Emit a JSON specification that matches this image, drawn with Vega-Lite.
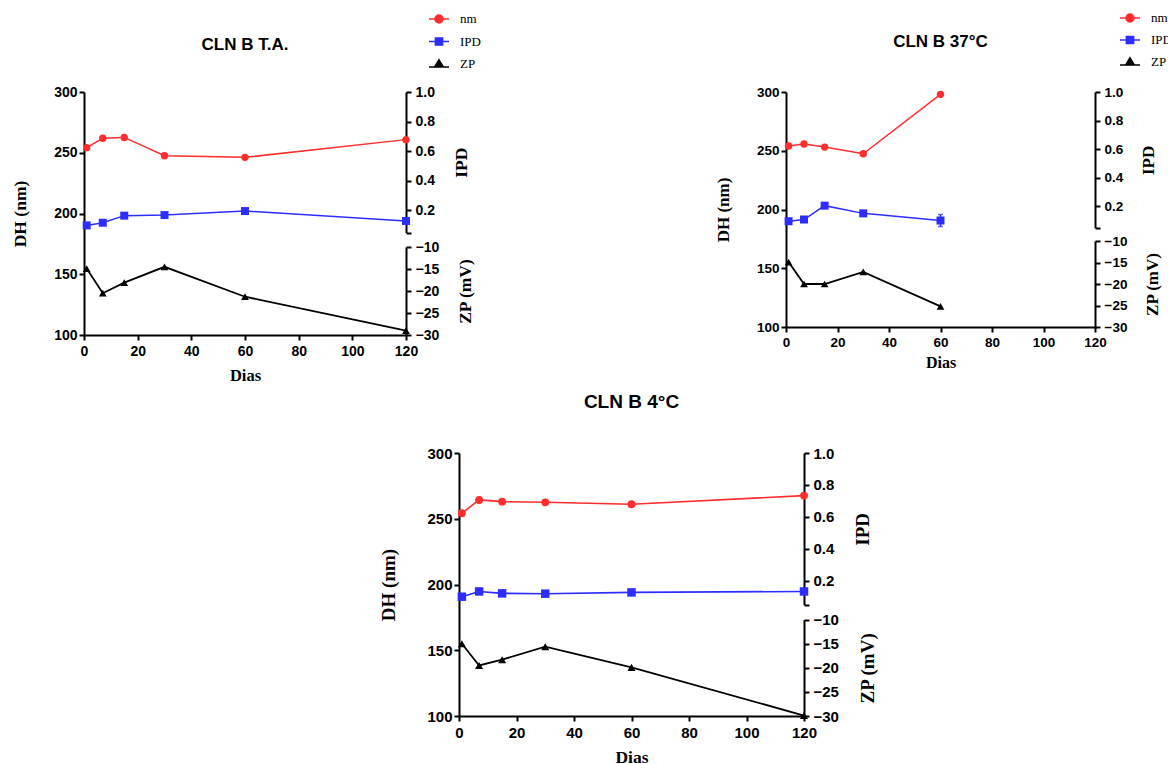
{
  "$schema": "https://vega.github.io/schema/vega-lite/v6.json",
  "padding": {"left": 11, "top": 7, "right": 0, "bottom": 0},
  "background": "white",
  "config": {
    "view": {"stroke": null},
    "axis": {
      "grid": false,
      "domainColor": "black",
      "domainWidth": 2,
      "tickColor": "black",
      "tickWidth": 2,
      "tickSize": 5,
      "labelFont": "Liberation Sans",
      "labelFontWeight": "bold",
      "labelColor": "black",
      "labelFlush": false,
      "titleFont": "Liberation Serif",
      "titleFontWeight": "bold",
      "titleColor": "black"
    },
    "title": {"font": "Liberation Sans", "fontWeight": "bold", "color": "black", "anchor": "middle", "frame": "group"}
  },
  "data": {
    "values": [
      {"panel": "TA", "series": "nm", "dia": 1, "v": 254.2},
      {"panel": "TA", "series": "nm", "dia": 7, "v": 261.9},
      {"panel": "TA", "series": "nm", "dia": 15, "v": 262.6},
      {"panel": "TA", "series": "nm", "dia": 30, "v": 247.5},
      {"panel": "TA", "series": "nm", "dia": 60, "v": 246.2},
      {"panel": "TA", "series": "nm", "dia": 120, "v": 260.8},
      {"panel": "TA", "series": "IPD", "dia": 1, "v": 0.098},
      {"panel": "TA", "series": "IPD", "dia": 7, "v": 0.116},
      {"panel": "TA", "series": "IPD", "dia": 15, "v": 0.164},
      {"panel": "TA", "series": "IPD", "dia": 30, "v": 0.168},
      {"panel": "TA", "series": "IPD", "dia": 60, "v": 0.195},
      {"panel": "TA", "series": "IPD", "dia": 120, "v": 0.128},
      {"panel": "TA", "series": "ZP", "dia": 1, "v": -14.9},
      {"panel": "TA", "series": "ZP", "dia": 7, "v": -20.5},
      {"panel": "TA", "series": "ZP", "dia": 15, "v": -18.1},
      {"panel": "TA", "series": "ZP", "dia": 30, "v": -14.5},
      {"panel": "TA", "series": "ZP", "dia": 60, "v": -21.3},
      {"panel": "TA", "series": "ZP", "dia": 120, "v": -29.0},
      {"panel": "37", "series": "nm", "dia": 1, "v": 254.0},
      {"panel": "37", "series": "nm", "dia": 7, "v": 255.7},
      {"panel": "37", "series": "nm", "dia": 15, "v": 253.1},
      {"panel": "37", "series": "nm", "dia": 30, "v": 247.4},
      {"panel": "37", "series": "nm", "dia": 60, "v": 298.0},
      {"panel": "37", "series": "IPD", "dia": 1, "v": 0.096},
      {"panel": "37", "series": "IPD", "dia": 7, "v": 0.108},
      {"panel": "37", "series": "IPD", "dia": 15, "v": 0.205},
      {"panel": "37", "series": "IPD", "dia": 30, "v": 0.151},
      {"panel": "37", "series": "IPD", "dia": 60, "v": 0.101, "lo": 0.059, "hi": 0.143},
      {"panel": "37", "series": "ZP", "dia": 1, "v": -14.9},
      {"panel": "37", "series": "ZP", "dia": 7, "v": -20.0},
      {"panel": "37", "series": "ZP", "dia": 15, "v": -20.0},
      {"panel": "37", "series": "ZP", "dia": 30, "v": -17.2},
      {"panel": "37", "series": "ZP", "dia": 60, "v": -25.2},
      {"panel": "4", "series": "nm", "dia": 1, "v": 254.2},
      {"panel": "4", "series": "nm", "dia": 7, "v": 264.3},
      {"panel": "4", "series": "nm", "dia": 15, "v": 263.0},
      {"panel": "4", "series": "nm", "dia": 30, "v": 262.5},
      {"panel": "4", "series": "nm", "dia": 60, "v": 261.0},
      {"panel": "4", "series": "nm", "dia": 120, "v": 267.6},
      {"panel": "4", "series": "IPD", "dia": 1, "v": 0.100},
      {"panel": "4", "series": "IPD", "dia": 7, "v": 0.133},
      {"panel": "4", "series": "IPD", "dia": 15, "v": 0.121},
      {"panel": "4", "series": "IPD", "dia": 30, "v": 0.119},
      {"panel": "4", "series": "IPD", "dia": 60, "v": 0.127},
      {"panel": "4", "series": "IPD", "dia": 120, "v": 0.133},
      {"panel": "4", "series": "ZP", "dia": 1, "v": -15.0},
      {"panel": "4", "series": "ZP", "dia": 7, "v": -19.5},
      {"panel": "4", "series": "ZP", "dia": 15, "v": -18.3},
      {"panel": "4", "series": "ZP", "dia": 30, "v": -15.6},
      {"panel": "4", "series": "ZP", "dia": 60, "v": -19.9},
      {"panel": "4", "series": "ZP", "dia": 120, "v": -29.9}
    ]
  },
  "bounds": "flush",
  "spacing": 361,
  "resolve": {
    "scale": {"fill": "independent", "stroke": "independent", "shape": "independent"},
    "legend": {"fill": "independent", "stroke": "independent", "shape": "independent"}
  },
  "vconcat": [
    {
      "bounds": "flush",
      "spacing": 380,
      "resolve": {
        "scale": {"fill": "independent", "stroke": "independent", "shape": "independent"},
        "legend": {"fill": "independent", "stroke": "independent", "shape": "independent"}
      },
      "hconcat": [
        {
          "width": 322,
          "height": 243,
          "title": {"text": "CLN B T.A.", "fontSize": 17, "baseline": "middle", "offset": -54},
          "transform": [{"filter": "datum.panel == 'TA'"}],
          "encoding": {
            "x": {"field": "dia", "type": "quantitative", "scale": {"domain": [0, 120], "nice": false},
                  "axis": {"values": [0, 20, 40, 60, 80, 100, 120], "title": "Dias", "labelFontSize": 14, "titleFontSize": 16.5, "labelPadding": 4, "titlePadding": 9}}
          },
          "layer": [
            {
              "transform": [{"filter": "datum.series == 'nm'"}],
              "encoding": {
                "y": {"field": "v", "type": "quantitative", "scale": {"domain": [100, 300], "nice": false, "zero": false},
                      "axis": {"orient": "left", "values": [100, 150, 200, 250, 300], "title": "DH (nm)", "labelFontSize": 14, "titleFontSize": 17.5, "labelPadding": 2, "titlePadding": 24}}
              },
              "layer": [
                {"mark": {"type": "line", "color": "#ff2d2d", "strokeWidth": 1.5}},
                {"mark": {"type": "point", "shape": "circle", "filled": true, "color": "#ff2d2d", "size": 55, "opacity": 1}},
                {
                  "mark": {"type": "point", "filled": true, "opacity": 0},
                  "encoding": {
                    "fill": {"field": "series", "type": "nominal",
                      "scale": {"domain": ["nm", "IPD", "ZP"], "range": ["#ff2d2d", "#2d2dff", "#000000"]},
                      "legend": {"orient": "none", "legendX": 344, "legendY": -84, "title": null, "padding": 0,
                        "labelFont": "Liberation Serif", "labelFontSize": 13, "labelColor": "black", "labelOffset": 10,
                        "symbolSize": 400, "symbolStrokeWidth": 1.5, "rowPadding": 4.5,
                        "encode": {"symbols": {"update": {"opacity": {"value": 1}}}}}},
                    "stroke": {"field": "series", "type": "nominal",
                      "scale": {"domain": ["nm", "IPD", "ZP"], "range": ["#ff2d2d", "#2d2dff", "#000000"]}},
                    "shape": {"field": "series", "type": "nominal",
                      "scale": {"domain": ["nm", "IPD", "ZP"], "range": [
                        "M-1,0H1M-0.4,0A0.4,0.4 0 1,1 0.4,0A0.4,0.4 0 1,1 -0.4,0Z",
                        "M-1,0H1M-0.36,-0.36H0.36V0.36H-0.36Z",
                        "M-1,0.3H1M0,-0.42L0.44,0.3H-0.44Z"]}}
                  }
                }
              ]
            },
            {
              "transform": [{"filter": "datum.series == 'IPD'"}],
              "encoding": {
                "y": {"field": "v", "type": "quantitative", "scale": {"domain": [0.05, 1.0], "range": [140.5, 0], "nice": false, "zero": false},
                      "axis": {"orient": "right", "values": [0.05, 0.2, 0.4, 0.6, 0.8, 1.0], "labelExpr": "datum.value < 0.1 ? '' : format(datum.value, '.1f')",
                               "title": "IPD", "titleAngle": 270, "titleBaseline": "top", "labelFontSize": 14, "titleFontSize": 17.5, "labelPadding": 4, "titlePadding": 18}}
              },
              "layer": [
                {"mark": {"type": "line", "color": "#2d2dff", "strokeWidth": 1.5}},
                {"mark": {"type": "point", "shape": "square", "filled": true, "color": "#2d2dff", "size": 64, "opacity": 1}}
              ]
            },
            {
              "transform": [{"filter": "datum.series == 'ZP'"}],
              "encoding": {
                "y": {"field": "v", "type": "quantitative", "scale": {"domain": [-30, -10], "range": [243, 155], "nice": false, "zero": false},
                      "axis": {"orient": "right", "values": [-30, -25, -20, -15, -10], "title": "ZP (mV)", "titleAngle": 270, "titleBaseline": "top",
                               "labelFontSize": 14, "titleFontSize": 17.5, "labelPadding": 4, "titlePadding": 18}}
              },
              "layer": [
                {"mark": {"type": "line", "color": "#000000", "strokeWidth": 1.8}},
                {"mark": {"type": "point", "shape": "triangle-up", "filled": true, "color": "#000000", "size": 60, "opacity": 1}}
              ]
            }
          ],
          "resolve": {"scale": {"y": "independent"}, "axis": {"y": "independent"}}
        },
        {
          "width": 309,
          "height": 235,
          "title": {"text": "CLN B 37°C", "fontSize": 17, "baseline": "middle", "offset": -52},
          "transform": [{"filter": "datum.panel == '37'"}],
          "encoding": {
            "x": {"field": "dia", "type": "quantitative", "scale": {"domain": [0, 120], "nice": false},
                  "axis": {"values": [0, 20, 40, 60, 80, 100, 120], "title": "Dias", "labelFontSize": 13.5, "titleFontSize": 16, "labelPadding": 3, "titlePadding": 6}}
          },
          "layer": [
            {
              "transform": [{"filter": "datum.series == 'nm'"}],
              "encoding": {
                "y": {"field": "v", "type": "quantitative", "scale": {"domain": [100, 300], "nice": false, "zero": false},
                      "axis": {"orient": "left", "values": [100, 150, 200, 250, 300], "title": "DH (nm)", "labelFontSize": 13.5, "titleFontSize": 17, "labelPadding": 2, "titlePadding": 24}}
              },
              "layer": [
                {"mark": {"type": "line", "color": "#ff2d2d", "strokeWidth": 1.5}},
                {"mark": {"type": "point", "shape": "circle", "filled": true, "color": "#ff2d2d", "size": 55, "opacity": 1}},
                {
                  "mark": {"type": "point", "filled": true, "opacity": 0},
                  "encoding": {
                    "fill": {"field": "series", "type": "nominal",
                      "scale": {"domain": ["nm", "IPD", "ZP"], "range": ["#ff2d2d", "#2d2dff", "#000000"]},
                      "legend": {"orient": "none", "legendX": 333, "legendY": -85, "title": null, "padding": 0,
                        "labelFont": "Liberation Serif", "labelFontSize": 13, "labelColor": "black", "labelOffset": 10,
                        "symbolSize": 400, "symbolStrokeWidth": 1.5, "rowPadding": 4,
                        "encode": {"symbols": {"update": {"opacity": {"value": 1}}}}}},
                    "stroke": {"field": "series", "type": "nominal",
                      "scale": {"domain": ["nm", "IPD", "ZP"], "range": ["#ff2d2d", "#2d2dff", "#000000"]}},
                    "shape": {"field": "series", "type": "nominal",
                      "scale": {"domain": ["nm", "IPD", "ZP"], "range": [
                        "M-1,0H1M-0.4,0A0.4,0.4 0 1,1 0.4,0A0.4,0.4 0 1,1 -0.4,0Z",
                        "M-1,0H1M-0.36,-0.36H0.36V0.36H-0.36Z",
                        "M-1,0.3H1M0,-0.42L0.44,0.3H-0.44Z"]}}
                  }
                }
              ]
            },
            {
              "transform": [{"filter": "datum.series == 'IPD'"}],
              "encoding": {
                "y": {"field": "v", "type": "quantitative", "scale": {"domain": [0.05, 1.0], "range": [135.8, 0], "nice": false, "zero": false},
                      "axis": {"orient": "right", "values": [0.05, 0.2, 0.4, 0.6, 0.8, 1.0], "labelExpr": "datum.value < 0.1 ? '' : format(datum.value, '.1f')",
                               "title": "IPD", "titleAngle": 270, "titleBaseline": "top", "labelFontSize": 13.5, "titleFontSize": 17, "labelPadding": 4, "titlePadding": 18}}
              },
              "layer": [
                {"mark": {"type": "line", "color": "#2d2dff", "strokeWidth": 1.5}},
                {"mark": {"type": "point", "shape": "square", "filled": true, "color": "#2d2dff", "size": 64, "opacity": 1}},
                {"transform": [{"filter": "isValid(datum.lo)"}],
                 "mark": {"type": "errorbar", "ticks": true, "color": "#2d2dff", "thickness": 1.5},
                 "encoding": {"y": {"field": "lo", "type": "quantitative"}, "y2": {"field": "hi"}}}
              ]
            },
            {
              "transform": [{"filter": "datum.series == 'ZP'"}],
              "encoding": {
                "y": {"field": "v", "type": "quantitative", "scale": {"domain": [-30, -10], "range": [235, 149], "nice": false, "zero": false},
                      "axis": {"orient": "right", "values": [-30, -25, -20, -15, -10], "title": "ZP (mV)", "titleAngle": 270, "titleBaseline": "top",
                               "labelFontSize": 13.5, "titleFontSize": 17, "labelPadding": 4, "titlePadding": 18}}
              },
              "layer": [
                {"mark": {"type": "line", "color": "#000000", "strokeWidth": 1.8}},
                {"mark": {"type": "point", "shape": "triangle-up", "filled": true, "color": "#000000", "size": 60, "opacity": 1}}
              ]
            }
          ],
          "resolve": {"scale": {"y": "independent"}, "axis": {"y": "independent"}}
        }
      ]
    },
    {
      "bounds": "flush",
      "spacing": 0,
      "hconcat": [
        {
          "width": 375,
          "height": 10,
          "data": {"values": [{"s": 0}]},
          "mark": {"type": "point", "opacity": 0}
        },
        {
          "width": 345,
          "height": 263,
          "title": {"text": "CLN B 4°C", "fontSize": 19, "baseline": "middle", "offset": 25},
          "transform": [{"filter": "datum.panel == '4'"}],
          "encoding": {
            "x": {"field": "dia", "type": "quantitative", "scale": {"domain": [0, 120], "nice": false},
                  "axis": {"values": [0, 20, 40, 60, 80, 100, 120], "title": "Dias", "labelFontSize": 15, "titleFontSize": 17.5, "labelPadding": 4, "titlePadding": 8}}
          },
          "layer": [
            {
              "transform": [{"filter": "datum.series == 'nm'"}],
              "encoding": {
                "y": {"field": "v", "type": "quantitative", "scale": {"domain": [100, 300], "nice": false, "zero": false},
                      "axis": {"orient": "left", "values": [100, 150, 200, 250, 300], "title": "DH (nm)", "labelFontSize": 15, "titleFontSize": 19, "labelPadding": 2, "titlePadding": 28}}
              },
              "layer": [
                {"mark": {"type": "line", "color": "#ff2d2d", "strokeWidth": 1.6}},
                {"mark": {"type": "point", "shape": "circle", "filled": true, "color": "#ff2d2d", "size": 62, "opacity": 1}}
              ]
            },
            {
              "transform": [{"filter": "datum.series == 'IPD'"}],
              "encoding": {
                "y": {"field": "v", "type": "quantitative", "scale": {"domain": [0.05, 1.0], "range": [151.7, 0], "nice": false, "zero": false},
                      "axis": {"orient": "right", "values": [0.05, 0.2, 0.4, 0.6, 0.8, 1.0], "labelExpr": "datum.value < 0.1 ? '' : format(datum.value, '.1f')",
                               "title": "IPD", "titleAngle": 270, "titleBaseline": "top", "labelFontSize": 15, "titleFontSize": 19, "labelPadding": 4, "titlePadding": 20}}
              },
              "layer": [
                {"mark": {"type": "line", "color": "#2d2dff", "strokeWidth": 1.6}},
                {"mark": {"type": "point", "shape": "square", "filled": true, "color": "#2d2dff", "size": 72, "opacity": 1}}
              ]
            },
            {
              "transform": [{"filter": "datum.series == 'ZP'"}],
              "encoding": {
                "y": {"field": "v", "type": "quantitative", "scale": {"domain": [-30, -10], "range": [263, 166.7], "nice": false, "zero": false},
                      "axis": {"orient": "right", "values": [-30, -25, -20, -15, -10], "title": "ZP (mV)", "titleAngle": 270, "titleBaseline": "top",
                               "labelFontSize": 15, "titleFontSize": 19, "labelPadding": 4, "titlePadding": 20}}
              },
              "layer": [
                {"mark": {"type": "line", "color": "#000000", "strokeWidth": 1.8}},
                {"mark": {"type": "point", "shape": "triangle-up", "filled": true, "color": "#000000", "size": 66, "opacity": 1}}
              ]
            }
          ],
          "resolve": {"scale": {"y": "independent"}, "axis": {"y": "independent"}}
        }
      ]
    }
  ]
}
